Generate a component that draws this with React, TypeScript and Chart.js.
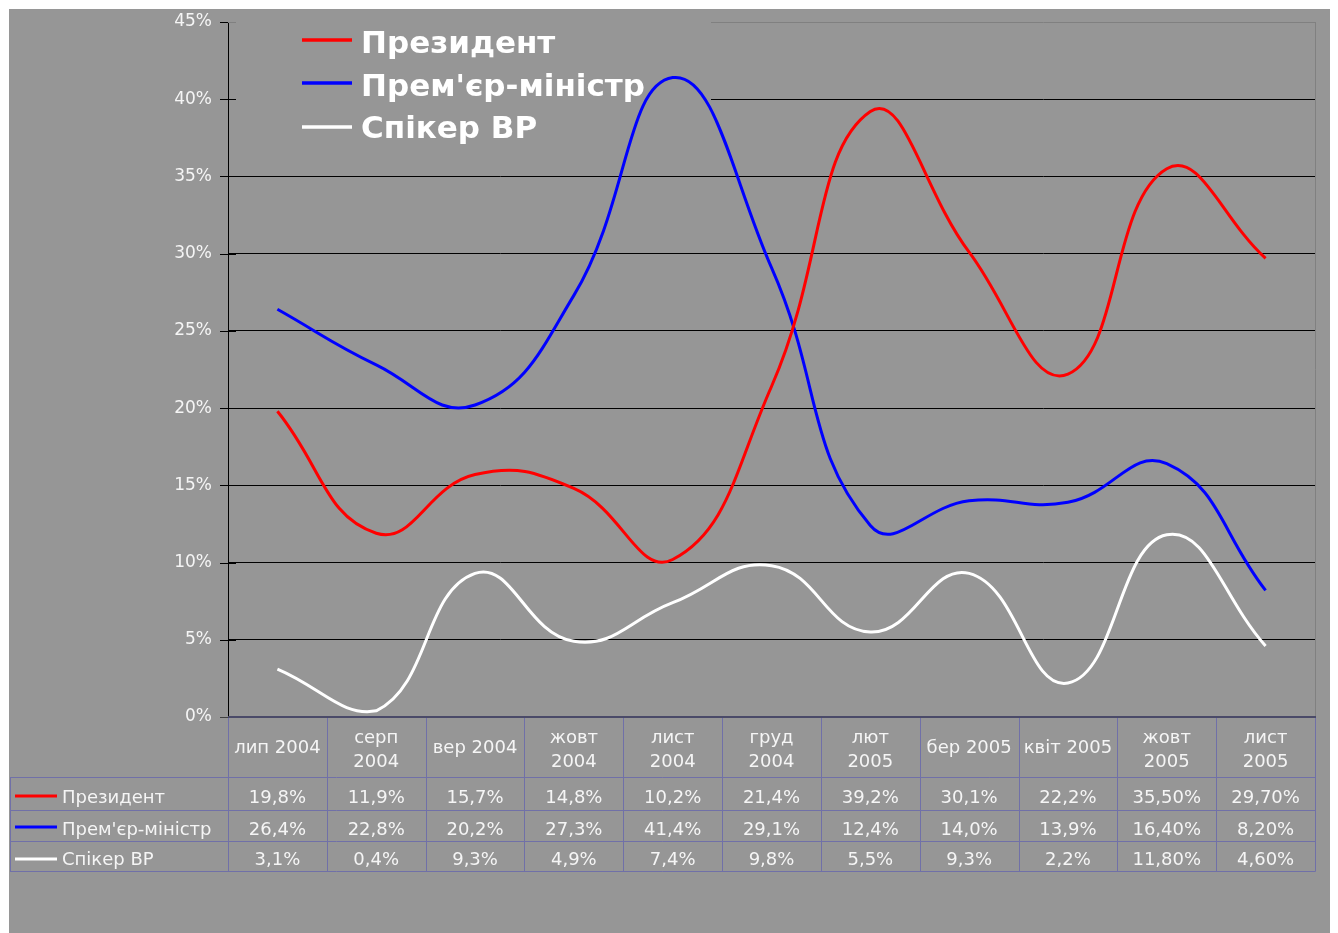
import { useEffect, useRef } from 'react';
import { Chart, registerables } from 'chart.js';

Chart.register(...registerables);

const categories: string[][] = [
  ['лип 2004'],
  ['серп', '2004'],
  ['вер 2004'],
  ['жовт', '2004'],
  ['лист', '2004'],
  ['груд', '2004'],
  ['лют', '2005'],
  ['бер 2005'],
  ['квіт 2005'],
  ['жовт', '2005'],
  ['лист', '2005'],
];

const seriesNames = ['Президент', "Прем'єр-міністр", 'Спікер ВР'];

const presidentValues = [19.8, 11.9, 15.7, 14.8, 10.2, 21.4, 39.2, 30.1, 22.2, 35.5, 29.7];
const pmValues = [26.4, 22.8, 20.2, 27.3, 41.4, 29.1, 12.4, 14.0, 13.9, 16.4, 8.2];
const speakerValues = [3.1, 0.4, 9.3, 4.9, 7.4, 9.8, 5.5, 9.3, 2.2, 11.8, 4.6];

const presidentLabels = ['19,8%', '11,9%', '15,7%', '14,8%', '10,2%', '21,4%', '39,2%', '30,1%', '22,2%', '35,50%', '29,70%'];
const pmLabels = ['26,4%', '22,8%', '20,2%', '27,3%', '41,4%', '29,1%', '12,4%', '14,0%', '13,9%', '16,40%', '8,20%'];
const speakerLabels = ['3,1%', '0,4%', '9,3%', '4,9%', '7,4%', '9,8%', '5,5%', '9,3%', '2,2%', '11,80%', '4,60%'];

const yMin = 0;
const yMax = 45;
const yStep = 5;

const seriesColors = ['#ff0000', '#0000ff', '#ffffff'];

const BG = '#969696';
const TEXT = '#f5f5f5';
const TABLE_LINE = '#7070a8';
const FONT = '"DejaVu Sans", Verdana, sans-serif';

export default function App() {
  const canvasRef = useRef<HTMLCanvasElement | null>(null);

  useEffect(() => {
    const canvas = canvasRef.current;
    if (!canvas) return;

    const tableRows = [presidentLabels, pmLabels, speakerLabels];

    const plugin = {
      id: 'excelLook',
      beforeDraw(chart: any) {
        const ctx = chart.ctx;
        ctx.save();
        ctx.fillStyle = BG;
        ctx.fillRect(1, 1, chart.width - 1, chart.height - 1);
        ctx.restore();
      },
      beforeDatasetsDraw(chart: any) {
        const ctx = chart.ctx;
        const area = chart.chartArea;
        ctx.save();
        ctx.fillStyle = BG;
        ctx.fillRect(area.left + 1, 8, 482, 142);
        const lineYs = [32, 75, 119];
        const baseYs = [45, 88, 130];
        ctx.font = `bold 31px ${FONT}`;
        ctx.textAlign = 'left';
        ctx.textBaseline = 'alphabetic';
        for (let i = 0; i < 3; i++) {
          ctx.strokeStyle = seriesColors[i];
          ctx.lineWidth = 3.5;
          ctx.beginPath();
          ctx.moveTo(294, lineYs[i]);
          ctx.lineTo(344, lineYs[i]);
          ctx.stroke();
          ctx.fillStyle = '#ffffff';
          ctx.fillText(seriesNames[i], 353, baseYs[i]);
        }
        ctx.restore();
      },
      afterDatasetsDraw(chart: any) {
        const ctx = chart.ctx;
        const area = chart.chartArea;
        const xs = chart.scales.x;
        const ys = chart.scales.y;
        ctx.save();

        ctx.strokeStyle = '#808080';
        ctx.lineWidth = 1;
        ctx.beginPath();
        ctx.moveTo(Math.round(area.right) + 0.5, area.top);
        ctx.lineTo(Math.round(area.right) + 0.5, area.bottom);
        ctx.stroke();

        for (let v = yMin; v <= yMax; v += yStep) {
          const y = Math.round(ys.getPixelForValue(v)) + 0.5;
          ctx.strokeStyle = v === yMin ? '#404040' : '#000000';
          ctx.beginPath();
          ctx.moveTo(area.left - 8, y);
          ctx.lineTo(area.left, y);
          ctx.stroke();
          if (v !== yMin) {
            ctx.strokeStyle = v === yMax ? '#808080' : '#000000';
            ctx.beginPath();
            ctx.moveTo(area.left, y);
            ctx.lineTo(area.left + 8, y);
            ctx.stroke();
          }
        }

        const n = categories.length;
        const c0 = xs.getPixelForValue(0);
        const c1 = xs.getPixelForValue(1);
        const colW = c1 - c0;
        const bounds: number[] = [];
        for (let i = 0; i <= n; i++) bounds.push(c0 - colW / 2 + i * colW);
        const top = area.bottom;
        const rowLines = [769, 802, 833, 863];
        const tableLeft = 2;

        ctx.strokeStyle = TABLE_LINE;
        ctx.lineWidth = 1;
        for (const ry of rowLines) {
          ctx.beginPath();
          ctx.moveTo(tableLeft, ry + 0.5);
          ctx.lineTo(Math.round(bounds[n]) + 0.5, ry + 0.5);
          ctx.stroke();
        }
        for (let i = 0; i <= n; i++) {
          const bx = Math.round(bounds[i]) + 0.5;
          ctx.beginPath();
          ctx.moveTo(bx, top);
          ctx.lineTo(bx, rowLines[3] + 0.5);
          ctx.stroke();
        }
        ctx.beginPath();
        ctx.moveTo(tableLeft + 0.5, rowLines[0]);
        ctx.lineTo(tableLeft + 0.5, rowLines[3] + 0.5);
        ctx.stroke();

        ctx.strokeStyle = '#4a4a68';
        ctx.lineWidth = 2;
        ctx.beginPath();
        ctx.moveTo(area.left, Math.round(area.bottom));
        ctx.lineTo(Math.round(area.right) + 1, Math.round(area.bottom));
        ctx.stroke();

        ctx.fillStyle = TEXT;
        ctx.font = `18px ${FONT}`;
        ctx.textAlign = 'center';
        ctx.textBaseline = 'alphabetic';
        for (let i = 0; i < n; i++) {
          const cx = xs.getPixelForValue(i);
          const lines = categories[i];
          if (lines.length === 1) {
            ctx.fillText(lines[0], cx, 745);
          } else {
            ctx.fillText(lines[0], cx, 735);
            ctx.fillText(lines[1], cx, 759);
          }
        }

        const rowBase = [795, 827, 857];
        for (let r = 0; r < 3; r++) {
          for (let i = 0; i < n; i++) {
            ctx.fillText(tableRows[r][i], xs.getPixelForValue(i), rowBase[r]);
          }
        }

        const keyYs = [788, 819, 851];
        ctx.textAlign = 'left';
        for (let r = 0; r < 3; r++) {
          ctx.strokeStyle = seriesColors[r];
          ctx.lineWidth = 3;
          ctx.beginPath();
          ctx.moveTo(7, keyYs[r]);
          ctx.lineTo(49, keyYs[r]);
          ctx.stroke();
          ctx.fillStyle = TEXT;
          ctx.fillText(seriesNames[r], 54, rowBase[r]);
        }

        ctx.restore();
      },
    };

    const chart = new Chart(canvas, {
      type: 'line',
      data: {
        labels: categories.map((c) => c.join(' ')),
        datasets: [
          { label: seriesNames[0], data: presidentValues, borderColor: seriesColors[0] },
          { label: seriesNames[1], data: pmValues, borderColor: seriesColors[1] },
          { label: seriesNames[2], data: speakerValues, borderColor: seriesColors[2] },
        ].map((d) => ({
          ...d,
          borderWidth: 3,
          pointRadius: 0,
          pointHoverRadius: 0,
          tension: 0.45,
          fill: false,
        })),
      },
      options: {
        responsive: false,
        animation: false,
        devicePixelRatio: 1,
        layout: { padding: { top: 14, right: 23, bottom: 216, left: 0 } },
        plugins: {
          legend: { display: false },
          tooltip: { enabled: false },
        },
        scales: {
          x: {
            type: 'category',
            display: false,
            offset: true,
          },
          y: {
            min: yMin,
            max: yMax,
            afterFit: (scale: any) => {
              scale.width = 220;
              scale.paddingTop = 0;
              scale.paddingBottom = 0;
            },
            ticks: {
              stepSize: yStep,
              callback: (v: any) => `${v}%`,
              color: TEXT,
              font: { family: FONT, size: 17 },
              padding: 16,
            },
            grid: {
              drawTicks: false,
              lineWidth: 1,
              color: (c: any) => {
                const v = c.tick ? c.tick.value : null;
                if (v === yMax) return '#808080';
                if (v === yMin) return 'rgba(0,0,0,0)';
                return '#000000';
              },
            },
            border: { display: true, color: '#000000', width: 1 },
          },
        },
      },
      plugins: [plugin],
    });

    return () => chart.destroy();
  }, []);

  return (
    <canvas
      ref={canvasRef}
      width={1330}
      height={925}
      style={{ display: 'block', width: 1330, height: 925 }}
    />
  );
}
